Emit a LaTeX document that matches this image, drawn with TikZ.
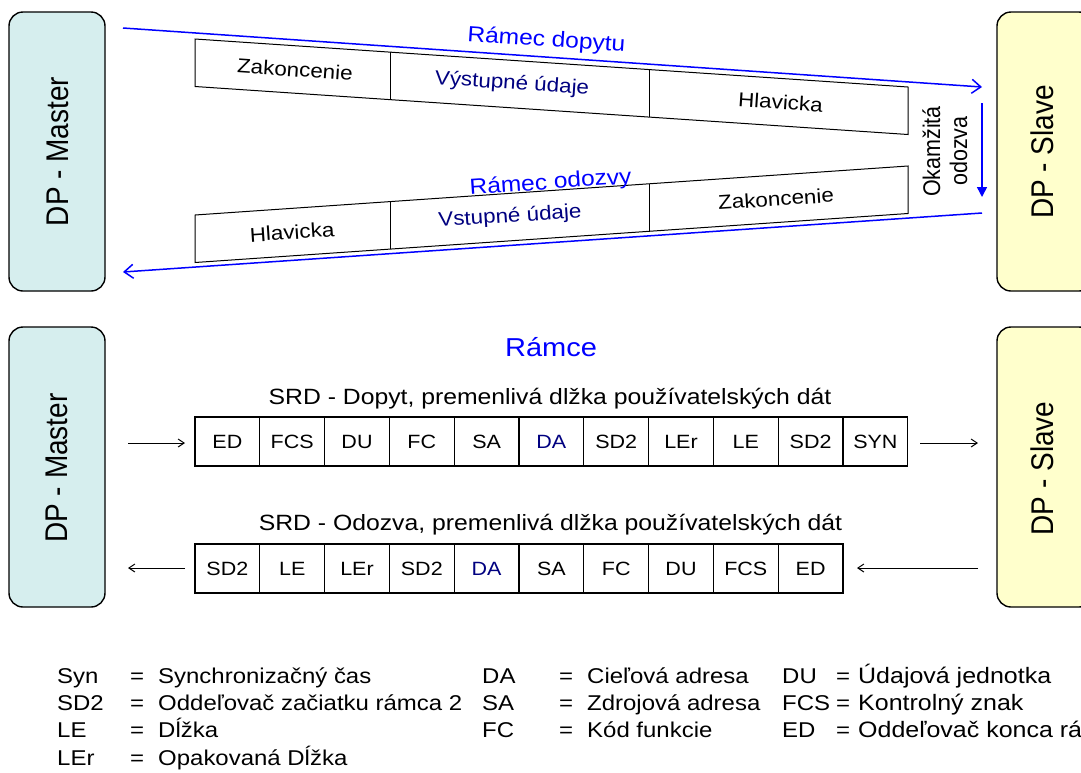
\documentclass[tikz,border=0pt]{standalone}
\usepackage{fontspec}
\setmainfont{Liberation Sans}
\usetikzlibrary{arrows.meta}
\definecolor{mfill}{RGB}{214,238,238}
\definecolor{sfill}{RGB}{255,255,204}
\definecolor{navyt}{RGB}{0,0,128}
\definecolor{pblue}{RGB}{0,0,255}
\newcommand{\hs}[1]{\scalebox{1.12}[1]{#1}}
\newcommand{\vs}[1]{\scalebox{1}[1.12]{#1}}
\newcommand{\fsz}[1]{\fontsize{#1}{#1}\selectfont}
\begin{document}
\begin{tikzpicture}[x=1pt,y=-1pt,
 devbox/.style={draw=black,line width=1.4pt,rounded corners=14pt,minimum width=96pt,inner sep=0pt},
 devlabel/.style={rotate=90,anchor=base,inner sep=0pt,font={\fsz{28}}},
 bline/.style={draw=pblue,line width=1.5pt},
 barb/.style={-{Straight Barb[length=9pt,width=14pt]}},
 frameline/.style={draw=black,line width=1pt},
 ftext/.style={inner sep=0pt,font={\fsz{20}}},
 cell/.style={draw=black,line width=1.1pt,minimum width=64.8pt,minimum height=49pt,inner sep=0pt,font={\fsz{19.2}}},
 title/.style={anchor=base,inner sep=0pt,font={\fsz{22.1}}},
 leg/.style={anchor=base west,inner sep=0pt,font={\fsz{21.4}}},
 legw/.style={anchor=base west,inner sep=0pt,font={\fsz{22.3}}},
 thinarrow/.style={draw=black,line width=1pt,-{Straight Barb[length=6pt,width=8pt]}},
]
\useasboundingbox (0,0) rectangle (1081,772);
\fill[white] (0,0) rectangle (1081,772);
\clip (0,0) rectangle (1081,772);

% device boxes
\node[devbox,fill=mfill,minimum height=279pt] (m1) at (57,151.5) {};
\node[devbox,fill=sfill,minimum height=279pt] (s1) at (1045,151.5) {};
\node[devbox,fill=mfill,minimum height=280pt] (m2) at (57,467) {};
\node[devbox,fill=sfill,minimum height=280pt] (s2) at (1045,467) {};
\node[devlabel] (m1t) at (68,151.5) {\vs{DP - Master}};
\node[devlabel] (s1t) at (1053,152) {\vs{DP - Slave}};
\node[devlabel] (m2t) at (67.5,468) {\vs{DP - Master}};
\node[devlabel] (s2t) at (1053,468.5) {\vs{DP - Slave}};

% top: request frame
\draw[frameline] (195,39) -- (908,87) -- (908,134.5) -- (195,86.5) -- cycle;
\draw[frameline] (390,52.13) -- (390,99.63);
\draw[frameline] (649,69.56) -- (649,117.06);
\node[ftext,rotate=-3.85] (f1a) at (295,69.5) {\hs{Zakoncenie}};
\node[ftext,rotate=-3.85,text=navyt] (f1b) at (512,84.1) {\hs{Výstupné údaje}};
\node[ftext,rotate=-3.85] (f1c) at (780.5,102.2) {\hs{Hlavicka}};

% top: response frame
\draw[frameline] (195,215) -- (908,166) -- (908,213.5) -- (195,262.5) -- cycle;
\draw[frameline] (390,201.6) -- (390,249.1);
\draw[frameline] (649,183.8) -- (649,231.3);
\node[ftext,rotate=3.85] (f2a) at (292,232.1) {\hs{Hlavicka}};
\node[ftext,rotate=3.85,text=navyt] (f2b) at (510,216.9) {\hs{Vstupné údaje}};
\node[ftext,rotate=3.85] (f2c) at (776,198.8) {\hs{Zakoncenie}};

% blue connectors
\coordinate (q1) at (123,28);
\coordinate (q2) at (982,87);
\coordinate (r1) at (982,213);
\coordinate (r2) at (123,272);
\coordinate (v1) at (982,103);
\coordinate (v2) at (982,197);
\draw[bline,barb] (q1) -- (q2);
\draw[bline,barb] (r1) -- (r2);
\draw[bline,-{Triangle[length=10pt,width=10pt]}] (v1) -- (v2);
\node[anchor=base,rotate=-3.93,inner sep=0pt,text=pblue,font={\fsz{21.9}}] (lq) at (546,46.5) {\hs{Rámec dopytu}};
\node[anchor=base,rotate=3.93,inner sep=0pt,text=pblue,font={\fsz{21.9}}] (lr) at (551,189) {\hs{Rámec odozvy}};
\node[rotate=90,anchor=base,inner sep=0pt,font={\fsz{21.5}}] (ok1) at (940,151.5) {\vs{Okamžitá}};
\node[rotate=90,anchor=base,inner sep=0pt,font={\fsz{21.5}}] (ok2) at (967,151) {\vs{odozva}};

% lower section
\node[title,text=pblue,font={\fsz{25.9}}] (rt) at (551,356) {\hs{Rámce}};
\node[title] (t0) at (550,404) {\hs{SRD - Dopyt, premenlivá dlžka používatelských dát}};
\node[title] (b0) at (550.5,530.7) {\hs{SRD - Odozva, premenlivá dlžka používatelských dát}};

\foreach \lab/\col [count=\i] in {ED/black,FCS/black,DU/black,FC/black,SA/black,DA/navyt,SD2/black,LEr/black,LE/black,SD2/black,SYN/black}
  \node[cell,text=\col] (t\i) at ({162.6+64.8*\i},441.5) {\hs{\lab}};
\foreach \lab/\col [count=\i] in {SD2/black,LE/black,LEr/black,SD2/black,DA/navyt,SA/black,FC/black,DU/black,FCS/black,ED/black}
  \node[cell,text=\col] (b\i) at ({162.6+64.8*\i},568.5) {\hs{\lab}};

\coordinate (a1s) at (128,443);
\coordinate (a1e) at (185,443);
\coordinate (a2s) at (920,443);
\coordinate (a2e) at (978,443);
\coordinate (a3s) at (185,568);
\coordinate (a3e) at (128,568);
\coordinate (a4s) at (978,568);
\coordinate (a4e) at (857,568);
\draw[thinarrow] (a1s) -- (a1e);
\draw[thinarrow] (a2s) -- (a2e);
\draw[thinarrow] (a3s) -- (a3e);
\draw[thinarrow] (a4s) -- (a4e);

% legend
\node[leg] (l11) at (57,683) {\hs{Syn}};
\node[leg] (l12) at (130,683) {\hs{=}};
\node[leg] (l13) at (158,683) {\hs{Synchronizačný čas}};
\node[leg] (l21) at (57,710) {\hs{SD2}};
\node[leg] (l22) at (130,710) {\hs{=}};
\node[leg] (l23) at (158,710) {\hs{Oddeľovač začiatku rámca 2}};
\node[leg] (l31) at (57,737) {\hs{LE}};
\node[leg] (l32) at (130,737) {\hs{=}};
\node[leg] (l33) at (158,737) {\hs{Dĺžka}};
\node[leg] (l41) at (57,765) {\hs{LEr}};
\node[leg] (l42) at (130,765) {\hs{=}};
\node[leg] (l43) at (158,765) {\hs{Opakovaná Dĺžka}};

\node[leg] (c11) at (482,683) {\hs{DA}};
\node[leg] (c12) at (559,683) {\hs{=}};
\node[leg] (c13) at (587,683) {\hs{Cieľová adresa}};
\node[leg] (c21) at (482,710) {\hs{SA}};
\node[leg] (c22) at (559,710) {\hs{=}};
\node[leg] (c23) at (587,710) {\hs{Zdrojová adresa}};
\node[leg] (c31) at (482,737) {\hs{FC}};
\node[leg] (c32) at (559,737) {\hs{=}};
\node[leg] (c33) at (587,737) {\hs{Kód funkcie}};

\node[leg] (d11) at (782,683) {\hs{DU}};
\node[leg] (d12) at (836,683) {\hs{=}};
\node[legw] (d13) at (858,683) {\hs{Údajová jednotka}};
\node[leg] (d21) at (782,710) {\hs{FCS}};
\node[leg] (d22) at (836,710) {\hs{=}};
\node[legw] (d23) at (858,710) {\hs{Kontrolný znak}};
\node[leg] (d31) at (782,737) {\hs{ED}};
\node[leg] (d32) at (836,737) {\hs{=}};
\node[legw] (d33) at (858,737) {\hs{Oddeľovač konca rá}};
\end{tikzpicture}
\end{document}
